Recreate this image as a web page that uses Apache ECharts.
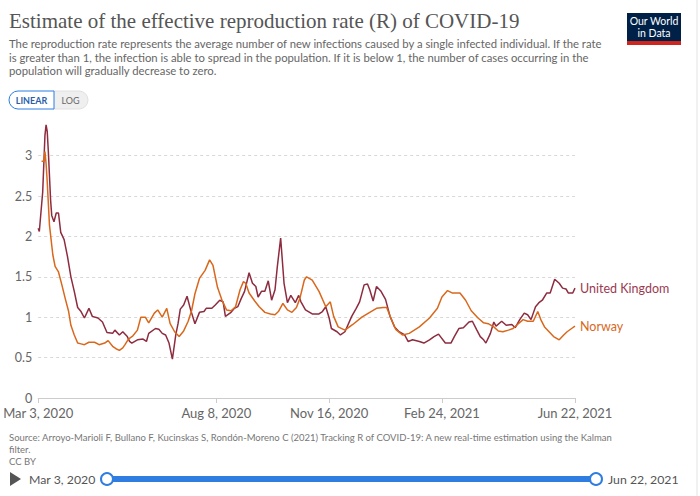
<!DOCTYPE html>
<html>
<head>
<meta charset="utf-8">
<script src="https://cdn.jsdelivr.net/npm/echarts@6/dist/echarts.min.js"></script>
<style>
html,body{margin:0;padding:0;background:#fff;}
#chart{width:700px;height:496px;}
</style>
</head>
<body>
<div id="chart"></div>
<script>
// Days since Mar 3, 2020
const ukDays = [0,1,4,6,7,8,9,10,11,12,14,16,18,20,23,26,29,32,35,38,41,45,48,53,57,61,66,68,72,75,79,81,83,88,93,96,98,104,107,110,113,116,119,122,124,126,129,132,135,139,143,147,149,154,157,161,164,166,171,174,177,180,183,187,190,193,195,198,201,204,207,210,212,215,218,221,224,228,231,233,237,243,249,252,255,258,260,265,268,272,278,282,285,289,292,294,297,300,304,308,312,316,320,325,328,332,338,342,347,351,355,361,366,369,373,377,382,385,389,392,395,397,401,404,406,411,415,420,423,427,431,434,437,441,444,447,451,454,458,462,465,468,470,474,476];
const ukValues = [2.10,2.06,2.55,3.25,3.38,3.30,3.05,2.75,2.45,2.26,2.18,2.29,2.29,2.05,1.96,1.75,1.50,1.32,1.12,1.07,0.99,1.11,1.01,0.99,0.94,0.81,0.80,0.84,0.78,0.82,0.76,0.70,0.68,0.72,0.73,0.70,0.80,0.86,0.85,0.80,0.78,0.68,0.48,0.78,0.92,1.10,1.15,1.26,1.10,0.92,1.06,1.07,1.11,1.11,1.15,1.21,1.19,1.01,1.06,1.11,1.13,1.23,1.32,1.55,1.42,1.38,1.25,1.32,1.32,1.45,1.21,1.34,1.62,1.98,1.42,1.18,1.27,1.18,1.27,1.19,1.09,1.04,1.04,1.07,1.13,0.99,0.86,0.82,0.78,0.82,1.01,1.11,1.19,1.40,1.41,1.34,1.20,1.38,1.32,1.22,1.01,0.88,0.82,0.78,0.70,0.72,0.70,0.68,0.72,0.76,0.79,0.68,0.68,0.76,0.86,0.87,0.94,0.95,0.84,0.76,0.72,0.68,0.80,0.94,0.89,0.95,0.90,0.91,0.87,0.97,1.05,1.03,0.97,1.13,1.18,1.21,1.30,1.30,1.47,1.42,1.36,1.35,1.30,1.30,1.36];

const noDays = [3,5,6,7,8,10,13,15,18,21,24,27,29,32,35,38,41,45,50,54,59,62,66,69,72,75,77,80,84,88,91,95,98,103,106,110,114,117,121,125,129,133,136,139,143,148,152,155,159,163,167,171,175,179,182,184,187,192,196,201,206,210,213,217,221,225,229,232,236,238,243,249,255,259,262,266,272,279,287,294,300,306,309,313,317,323,329,338,347,354,358,363,367,374,379,384,390,395,399,404,408,412,417,421,425,430,434,439,443,446,449,453,457,462,466,469,473,476];
const noValues = [2.93,2.93,3.05,2.90,2.68,2.14,1.77,1.63,1.56,1.40,1.23,1.07,0.90,0.78,0.68,0.67,0.66,0.69,0.69,0.66,0.68,0.71,0.64,0.61,0.59,0.62,0.66,0.73,0.77,0.84,1.00,1.00,0.93,1.05,1.09,1.00,1.11,0.92,0.82,0.76,0.83,0.95,1.08,1.29,1.48,1.58,1.71,1.64,1.37,1.21,1.09,1.08,1.13,1.34,1.44,1.42,1.30,1.20,1.13,1.06,1.04,1.03,1.07,1.17,1.09,1.06,1.12,1.23,1.46,1.50,1.46,1.32,1.13,1.19,1.01,0.88,0.84,0.91,1.00,1.06,1.11,1.12,1.12,0.98,0.85,0.78,0.80,0.88,0.99,1.11,1.25,1.33,1.30,1.30,1.21,1.08,0.99,0.93,0.92,0.88,0.83,0.82,0.84,0.86,0.91,0.97,0.95,0.95,1.07,0.96,0.88,0.82,0.76,0.72,0.78,0.82,0.86,0.89];

const xTickDays = [0,158,258,358,476];
const yTicks = [0,0.5,1,1.5,2,2.5,3];

const MONTHS = ['Jan','Feb','Mar','Apr','May','Jun','Jul','Aug','Sep','Oct','Nov','Dec'];
const BASE = Date.UTC(2020,2,3);
function fmtDay(v){
  const d = new Date(BASE + Math.round(v)*86400000);
  return MONTHS[d.getUTCMonth()] + ' ' + d.getUTCDate() + ', ' + d.getUTCFullYear();
}
const zip = (a,b)=>a.map((x,i)=>[x,b[i]]);

const FONT = 'Lato, "Noto Sans", sans-serif';
const chart = echarts.init(document.getElementById('chart'), null, {renderer:'svg'});
const BLUE = '#2f7de1';

chart.setOption({
  animation:false,
  textStyle:{fontFamily:FONT},
  grid:{left:31,right:125,top:115.2,bottom:98,containLabel:false},
  xAxis:{
    type:'value',min:0,max:476,
    axisLine:{show:true,lineStyle:{color:'#ccc'}},
    axisTick:{show:true,customValues:xTickDays,length:5,lineStyle:{color:'#ccc'}},
    axisLabel:{customValues:xTickDays,formatter:fmtDay,color:'#666',fontSize:13,margin:8,fontFamily:FONT},
    splitLine:{show:false}
  },
  yAxis:{
    type:'value',min:0,max:3.5,interval:0.5,
    axisLine:{show:false},axisTick:{show:false},
    axisLabel:{color:'#666',fontSize:12.5,margin:6,fontFamily:FONT,
      formatter:v=> yTicks.indexOf(v)>=0 ? String(v) : ''},
    splitLine:{show:true,lineStyle:{type:[3,3],width:1,
      color:['transparent','#d8d8d8','#d8d8d8','#d8d8d8','#d8d8d8','#d8d8d8','#d8d8d8','transparent']}}
  },
  series:[
    {name:'United Kingdom',type:'line',data:zip(ukDays,ukValues),showSymbol:false,
     lineStyle:{color:'#8d2c3f',width:1.5},itemStyle:{color:'#8d2c3f'},
     endLabel:{show:true,formatter:p=>p.seriesName,color:'#9b3a50',fontSize:12.5,fontFamily:FONT,distance:5}},
    {name:'Norway',type:'line',data:zip(noDays,noValues),showSymbol:false,
     lineStyle:{color:'#d9681c',width:1.5},itemStyle:{color:'#d9681c'},
     endLabel:{show:true,formatter:p=>p.seriesName,color:'#d9681c',fontSize:12.5,fontFamily:FONT,distance:5}}
  ],
  graphic:[
    {type:'line',shape:{x1:697,y1:0,x2:697,y2:496},style:{stroke:'#e3e3e3',lineWidth:1}},
    {type:'text',left:9,top:10,style:{text:'Estimate of the effective reproduction rate (R) of COVID-19',
      font:'21px "Liberation Serif", serif',fill:'#555'}},
    {type:'text',left:9,top:37,style:{text:'The reproduction rate represents the average number of new infections caused by a single infected individual. If the rate\nis greater than 1, the infection is able to spread in the population. If it is below 1, the number of cases occurring in the\npopulation will gradually decrease to zero.',
      font:'11.3px '+FONT,fill:'#666',lineHeight:13.5}},
    {type:'rect',shape:{x:627,y:13,width:54,height:31},style:{fill:'#002147'}},
    {type:'rect',shape:{x:627,y:41,width:54,height:4},style:{fill:'#ce261e'}},
    {type:'text',x:654,y:27,style:{text:'Our World\nin Data',font:'10.5px '+FONT,fill:'#fff',align:'center',verticalAlign:'middle',lineHeight:12}},
    {type:'rect',shape:{x:53,y:91,width:35,height:18,r:[0,9,9,0]},style:{fill:'#efefef',stroke:'#e0e0e0'}},
    {type:'rect',shape:{x:9,y:91,width:45,height:18,r:[9,0,0,9]},style:{fill:'#fff',stroke:BLUE,lineWidth:1}},
    {type:'text',x:31.5,y:100,style:{text:'LINEAR',font:'bold 9px '+FONT,fill:'#2a5ea8',align:'center',verticalAlign:'middle'}},
    {type:'text',x:70.5,y:100,style:{text:'LOG',font:'9px '+FONT,fill:'#666',align:'center',verticalAlign:'middle'}},
    {type:'text',left:9,top:431,style:{text:'Source: Arroyo-Marioli F, Bullano F, Kucinskas S, Rondón-Moreno C (2021) Tracking R of COVID-19: A new real-time estimation using the Kalman\nfilter.\nCC BY',
      font:'9.5px '+FONT,fill:'#777',lineHeight:12}},
    {type:'polygon',shape:{points:[[10,472],[10,486],[21,479]]},style:{fill:'#555'}},
    {type:'text',x:29,y:479,style:{text:fmtDay(0),font:'12.3px '+FONT,fill:'#555',verticalAlign:'middle'}},
    {type:'line',shape:{x1:107,y1:479,x2:596,y2:479},style:{stroke:BLUE,lineWidth:6}},
    {type:'circle',shape:{cx:107,cy:479,r:6},style:{fill:'#fff',stroke:BLUE,lineWidth:2}},
    {type:'circle',shape:{cx:596,cy:479,r:6},style:{fill:'#fff',stroke:BLUE,lineWidth:2}},
    {type:'text',x:608,y:479,style:{text:fmtDay(476),font:'12.3px '+FONT,fill:'#555',verticalAlign:'middle'}}
  ]
});
</script>
</body>
</html>
